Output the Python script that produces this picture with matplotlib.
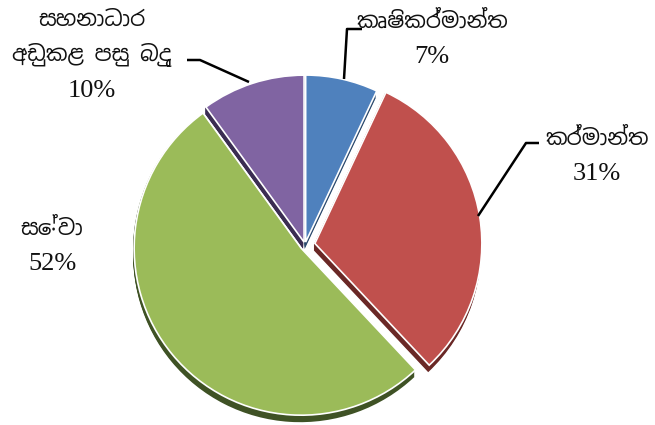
import matplotlib
matplotlib.use("Agg")
import matplotlib.pyplot as plt
from matplotlib import font_manager
from fontTools.ttLib import TTFont

# data
sectors = ["කෘෂිකර්මාන්ත", "කර්මාන්ත", "සේවා", "සහනාධාර\nඅඩුකළ පසු බදු"]
shares = [7, 31, 52, 10]
pct_labels = ["7%", "31%", "52%", "10%"]

face_colors = ["#4f81bd", "#c0504d", "#9bbb59", "#8064a2"]
side_colors = ["#2c4a6e", "#6a2826", "#3f5225", "#3b2d52"]
explode = [3, 10, 5, 3]


def find_sinhala_font():
    for f in font_manager.fontManager.ttflist:
        n = f.name.lower()
        if "sinhala" in n or "iskoola" in n:
            return f.name
    for f in font_manager.fontManager.ttflist:
        try:
            cmap = TTFont(f.fname, fontNumber=0, lazy=True).getBestCmap()
        except Exception:
            continue
        if cmap and 0x0D9A in cmap:
            return f.name
    return "DejaVu Sans"


si_font = find_sinhala_font()
num_font = "Liberation Serif"

W, H = 655, 425
fig = plt.figure(figsize=(W / 100, H / 100), dpi=100)
ax = fig.add_axes([0, 0, 1, 1])

cx, cy, r = 305, H - 245, 167

# extruded side of the pie
for d in range(7, 0, -1):
    ax.pie(shares, colors=side_colors, startangle=90, counterclock=False,
           radius=r, center=(cx - 1, cy - d), explode=explode,
           wedgeprops=dict(linewidth=0))

ax.pie(shares, colors=face_colors, startangle=90, counterclock=False,
       radius=r, center=(cx, cy), explode=explode,
       wedgeprops=dict(edgecolor="white", linewidth=1.2))

ax.set_xlim(0, W)
ax.set_ylim(0, H)
ax.set_aspect("equal")
ax.axis("off")

# labels: (x center, y of first line) in pixels from top
label_pos = [(432, 21), (597, 138), (52, 228), (92, 20)]
for name, pct, (lx, ly) in zip(sectors, pct_labels, label_pos):
    lines = name.split("\n")
    for i, ln in enumerate(lines):
        ax.text(lx, H - (ly + 35 * i), ln, ha="center", va="center",
                fontsize=15.5, family=[si_font, "DejaVu Sans"], color="#111111")
    ax.text(lx, H - (ly + 35 * len(lines) + 1), pct, ha="center", va="center",
            fontsize=19, family=num_font, color="#111111")

# leader lines
kw = dict(color="black", linewidth=1.8, solid_capstyle="butt")
ax.plot([344, 347, 362], [H - 79, H - 29, H - 29], **kw)
ax.plot([478, 526, 539], [H - 216, H - 143, H - 143], **kw)
ax.plot([187, 200, 249], [H - 60, H - 60, H - 82], **kw)

fig.savefig("out.png", dpi=100)
